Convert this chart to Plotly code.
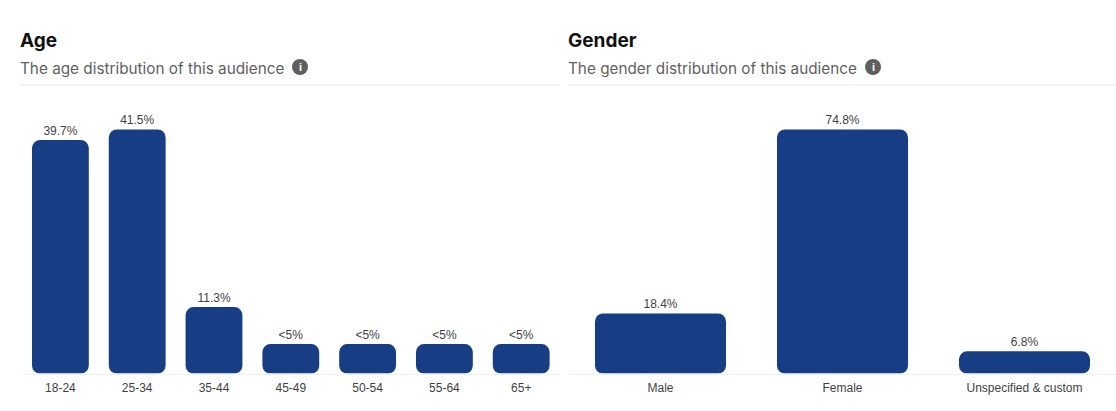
import plotly.graph_objects as go

W, H = 1116, 411

age_categories = ["18-24", "25-34", "35-44", "45-49", "50-54", "55-64", "65+"]
age_values = [39.7, 41.5, 11.3, 5.0, 5.0, 5.0, 5.0]
age_labels = ["39.7%", "41.5%", "11.3%", "<5%", "<5%", "<5%", "<5%"]

gender_categories = ["Male", "Female", "Unspecified & custom"]
gender_values = [18.4, 74.8, 6.8]
gender_labels = ["18.4%", "74.8%", "6.8%"]

BAR = "#173e85"
LABEL = "#3f3f3f"
RULE = "#e9e9e9"
BODY_FONT = "Liberation Sans"
HEAD_FONT = "Inter"
# A non-zero base makes plotly round the corners at both ends of a bar
BASE_EPS = 1e-4


def px(x):
    return x / W


def py(y):
    return 1 - y / H


def add_bars(fig, cats, vals, labels, width, xa, ya):
    fig.add_trace(go.Bar(x=cats, y=vals, base=[BASE_EPS] * len(vals), width=width,
                         marker_color=BAR, marker_line_width=0,
                         hoverinfo="skip", xaxis=xa, yaxis=ya, showlegend=False))
    # An invisible marker lifts the value labels off the bar tops
    fig.add_trace(go.Scatter(x=cats, y=vals, mode="text+markers", text=labels,
                             textposition="top center", cliponaxis=False,
                             marker=dict(size=2, opacity=0),
                             textfont=dict(family=BODY_FONT, size=12, color=LABEL),
                             hoverinfo="skip", xaxis=xa, yaxis=ya, showlegend=False))


fig = go.Figure()
add_bars(fig, age_categories, age_values, age_labels, 0.74, "x", "y")
add_bars(fig, gender_categories, gender_values, gender_labels, 0.72, "x2", "y2")

base_y = 373.5
top_y = 105
age_scale = 244 / 41.5
gender_scale = 244 / 74.8


def xaxis(domain, n):
    return dict(domain=domain, range=[-0.5, n - 0.5], type="category", showgrid=False,
                zeroline=False, showline=True, linecolor="#f0f0f0", linewidth=1,
                ticks="", ticklen=0, ticklabelstandoff=3,
                tickfont=dict(family=BODY_FONT, size=12, color=LABEL),
                fixedrange=True)


def yaxis(scale, anchor):
    return dict(domain=[py(base_y), py(top_y)], range=[0, (base_y - top_y) / scale],
                visible=False, anchor=anchor, fixedrange=True)


def heading(x, title, sub):
    return [
        dict(text=f"<b>{title}</b>", x=px(x - 2), y=py(40), xref="paper", yref="paper",
             xanchor="left", yanchor="middle", showarrow=False,
             font=dict(family=HEAD_FONT, size=19, color="#111111")),
        dict(text=sub, x=px(x - 2), y=py(68), xref="paper", yref="paper",
             xanchor="left", yanchor="middle", showarrow=False,
             font=dict(family=HEAD_FONT, size=15.3, color="#5f5f5f")),
    ]


def info_icon(cx, cy=67, r=8):
    shape = dict(type="circle", xref="paper", yref="paper", x0=px(cx - r), x1=px(cx + r),
                 y0=py(cy + r), y1=py(cy - r), fillcolor="#5f5f5f", line_width=0, layer="below")
    note = dict(text="<b>i</b>", x=px(cx), y=py(cy), xref="paper", yref="paper",
                xanchor="center", yanchor="middle", showarrow=False,
                font=dict(family=BODY_FONT, size=11, color="#ffffff"))
    return shape, note


def rule(x0, x1, y=85):
    return dict(type="line", xref="paper", yref="paper", x0=px(x0), x1=px(x1),
                y0=py(y), y1=py(y), line=dict(color=RULE, width=1))


icon1, note1 = info_icon(300)
icon2, note2 = info_icon(873)

fig.update_layout(
    width=W, height=H, margin=dict(l=0, r=0, t=0, b=0),
    paper_bgcolor="white", plot_bgcolor="white", barmode="overlay",
    showlegend=False,
    xaxis=xaxis([px(22), px(559.6)], len(age_categories)),
    yaxis=yaxis(age_scale, "x"),
    xaxis2=xaxis([px(569.5), px(1115.5)], len(gender_categories)),
    yaxis2=yaxis(gender_scale, "x2"),
    barcornerradius=8,
    annotations=heading(20, "Age", "The age distribution of this audience")
    + heading(568, "Gender", "The gender distribution of this audience") + [note1, note2],
    shapes=[rule(20, 560), rule(568, 1116), icon1, icon2],
)

fig.write_html("out.html", config=dict(displayModeBar=False),
               post_script="document.body.style.margin='0';")
